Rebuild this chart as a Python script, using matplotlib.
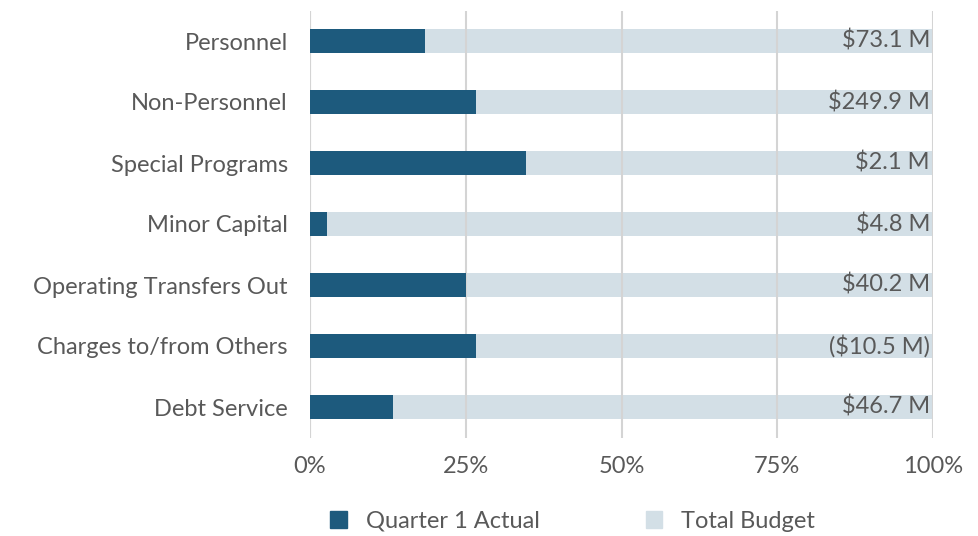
import matplotlib
matplotlib.use("Agg")
import matplotlib.pyplot as plt
from matplotlib.patches import Patch

categories = ["Personnel", "Non-Personnel", "Special Programs", "Minor Capital",
              "Operating Transfers Out", "Charges to/from Others", "Debt Service"]
actual_pct = [18.5, 26.6, 34.7, 2.8, 25.0, 26.6, 13.4]
budget_pct = [100, 100, 100, 100, 100, 100, 100]
budget_labels = ["$73.1 M", "$249.9 M", "$2.1 M", "$4.8 M", "$40.2 M", "($10.5 M)", "$46.7 M"]
xticks = [0, 25, 50, 75, 100]

dark = "#1D5A7D"
light = "#D3DFE6"
text_color = "#595959"

plt.rcParams["font.family"] = ["Lato", "DejaVu Sans"]
fs = 17

fig = plt.figure(figsize=(9.79, 5.36), dpi=100)
ax = fig.add_axes([310 / 979, 1 - 437.5 / 536, 623 / 979, 427 / 536])

y = list(range(len(categories)))
ax.barh(y, budget_pct, height=0.4, color=light, zorder=1)
ax.barh(y, actual_pct, height=0.4, color=dark, zorder=3)
for yi, lab in zip(y, budget_labels):
    ax.text(99.5, yi, lab, ha="right", va="center", fontsize=fs, color=text_color, zorder=4)

ax.set_xlim(0, 100)
ax.set_ylim(len(categories) - 0.5, -0.5)
ax.set_yticks(y)
ax.set_yticklabels(categories, fontsize=fs, color=text_color)
ax.set_xticks(xticks)
ax.set_xticklabels([f"{t}%" for t in xticks], fontsize=fs, color=text_color)
ax.tick_params(length=0)
ax.tick_params(axis="y", pad=16)
ax.tick_params(axis="x", pad=13)
ax.grid(axis="x", color="#D4D4D4", linewidth=1.5, zorder=2)
ax.set_axisbelow(False)
for s in ax.spines.values():
    s.set_visible(False)
ax.axvline(0, color="#D4D4D4", linewidth=1.5, zorder=0)

handles = [Patch(color=dark, label="Quarter 1 Actual"), Patch(color=light, label="Total Budget")]
fig.legend(handles=handles, loc="center", bbox_to_anchor=(0.585, 1 - 521 / 536), ncol=2,
           frameon=False, fontsize=fs, handlelength=0.7, handleheight=0.7, handletextpad=0.8,
           columnspacing=4.5, labelcolor=text_color)

fig.savefig("out.png", dpi=100)
